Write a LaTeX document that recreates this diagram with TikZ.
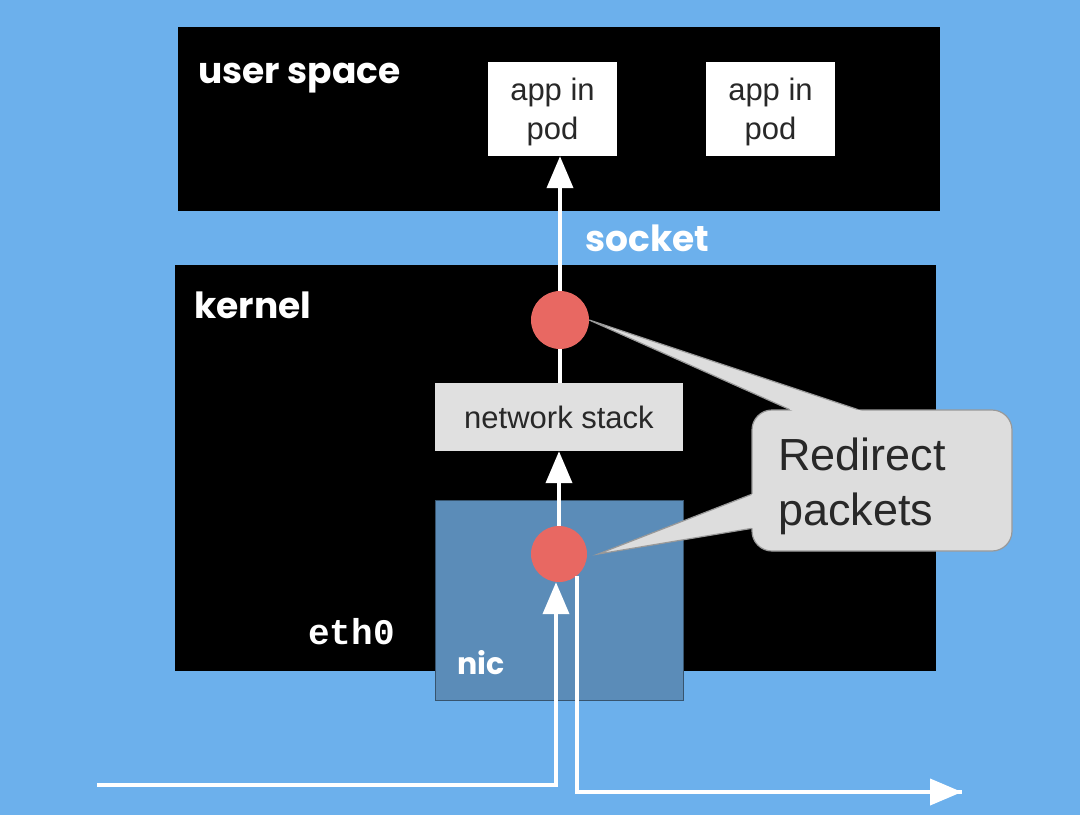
\documentclass[tikz,border=0pt]{standalone}
\usepackage{fontspec}
\setmainfont{Liberation Sans}
\setmonofont{Liberation Mono}
\newfontfamily\popfont{Poppins}
\usetikzlibrary{arrows.meta,positioning,calc}
\definecolor{sky}{RGB}{108,176,236}
\definecolor{nicblue}{RGB}{91,140,184}
\definecolor{hook}{RGB}{232,104,98}
\definecolor{stackgray}{RGB}{224,224,224}
\definecolor{notegray}{RGB}{221,221,221}
\definecolor{ink}{RGB}{40,40,40}

\tikzset{
  layer/.style={fill=black,inner sep=0pt},
  appbox/.style={fill=white,minimum width=129pt,minimum height=94pt,inner sep=0pt,text depth=0pt,align=center,text=ink,font=\fontsize{31}{39}\selectfont},
  tag/.style={text=white,inner sep=0pt,font=\popfont\bfseries\fontsize{36}{40}\selectfont},
  hookdot/.style={circle,fill=hook,inner sep=0pt},
  flow/.style={white,line width=4pt,-{Triangle[length=32pt,width=26pt]}},
  wire/.style={white,line width=4pt},
}

\begin{document}
\begin{tikzpicture}[x=1pt,y=-1pt]
  \fill[sky] (0,0) rectangle (1080,815);
  \useasboundingbox (0,0) rectangle (1080,815);
  % the two layers
  \node[layer,minimum width=762pt,minimum height=184pt] (user) at (559,119) {};
  \node[layer,minimum width=761pt,minimum height=406pt] (kernel) at (555.5,468) {};
  \node[tag,anchor=base west] (userlbl) at (198,83) {user space};
  \node[tag,anchor=base west] (kernlbl) at (194,318) {kernel};
  \node[tag,anchor=base west] (socklbl) at (585,251) {socket};
  % pods
  \node[appbox] (app1) at (552.5,109) {app in\\pod};
  \node[appbox] (app2) at (770.5,109) {app in\\pod};
  \node[fill=stackgray,minimum width=248pt,minimum height=68pt,text=ink,font=\fontsize{31}{36}\selectfont] (stack) at (559,417) {network stack};
  \node[fill=nicblue,draw=nicblue!60!black,line width=1pt,minimum width=248pt,minimum height=200pt] (nic) at (559,600) {};
  \node[tag,anchor=base west,font=\popfont\bfseries\fontsize{30}{34}\selectfont] (niclbl) at (457,674) {nic};
  \node[text=white,inner sep=0pt,anchor=base west,font=\ttfamily\bfseries\fontsize{36}{40}\selectfont] (eth) at (308,644) {eth0};
  % hook points
  \node[hookdot,minimum size=58pt] (hook1) at (560,320) {};
  \node[hookdot,minimum size=56pt] (hook2) at (559,554) {};
  \coordinate (wirein) at (97,785);
  \coordinate (wireout) at (962,792);
  % packet path
  \draw[flow] (wirein) -| ([xshift=-3pt]hook2.south);
  \draw[wire] (hook2.-50) |- (wireout);
  \draw[-{Triangle[length=32pt,width=26pt]},white,line width=4pt] (wireout) ++(-40,0) -- (wireout);
  \draw[flow] (hook2.north) -- (hook2.north |- stack.south);
  \draw[wire] (stack.north -| hook1.south) -- (hook1.south);
  \draw[flow] (hook1.north) -- (hook1.north |- app1.south);
  % callout
  \node[fill=notegray,draw=gray!80,line width=1.2pt,rounded corners=20pt,minimum width=260pt,minimum height=141pt,
        text width=208pt,inner xsep=26pt,text depth=52pt,align=left,text=ink,font=\fontsize{45}{55}\selectfont] (note) at (882,480.5) {Redirect\\packets};
  \coordinate (tipa) at (hook1.east);
  \coordinate (tipb) at ([xshift=11pt]hook2.east);
  \coordinate (a1) at ([xshift=38pt]note.north west);
  \coordinate (a2) at ([xshift=106pt]note.north west);
  \coordinate (b1) at ([yshift=-85pt]note.north west);
  \coordinate (b2) at ([yshift=-119pt]note.north west);
  \fill[notegray] (tipa) -- ($(tipa)!1.03!(a1)$) -- ($(tipa)!1.03!(a2)$) -- cycle;
  \fill[notegray] (tipb) -- ($(tipb)!1.05!(b1)$) -- ($(tipb)!1.05!(b2)$) -- cycle;
  \draw[gray!80,line width=1.2pt] (a1) -- (tipa) -- (a2);
  \draw[gray!80,line width=1.2pt] (b1) -- (tipb) -- (b2);
\end{tikzpicture}
\end{document}
